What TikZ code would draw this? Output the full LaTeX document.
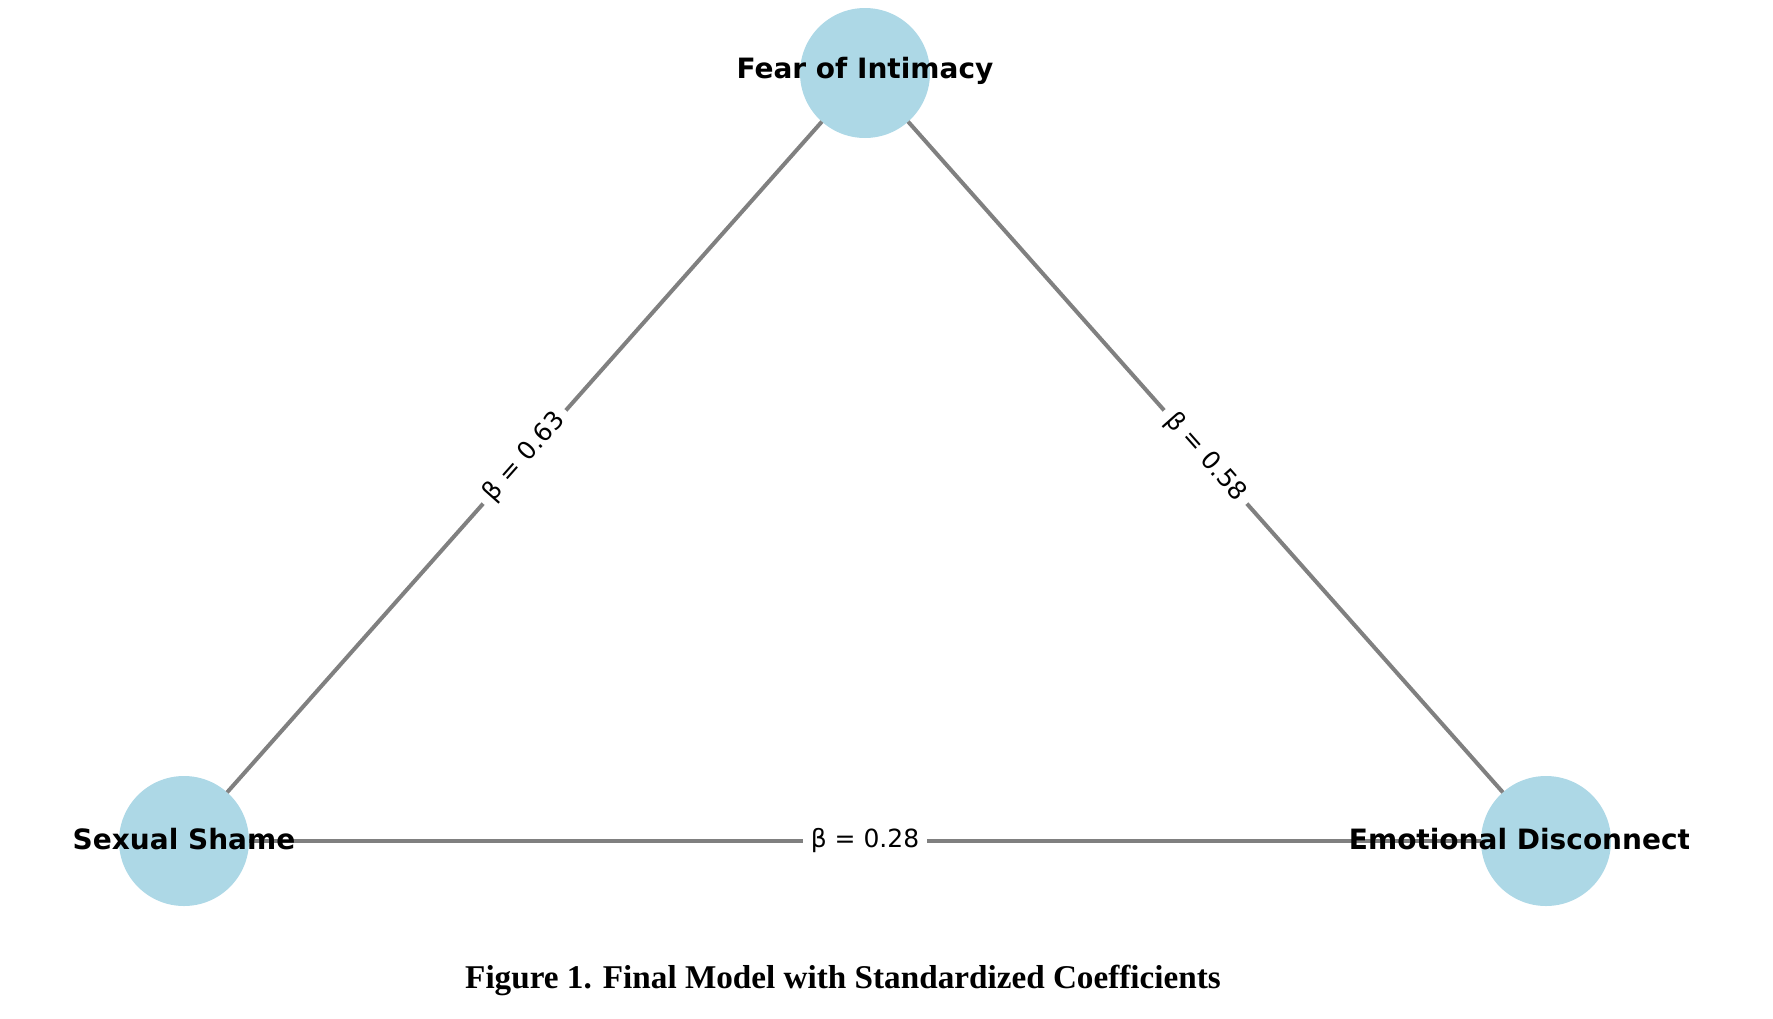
\documentclass[tikz,border=0pt]{standalone}
\usepackage{fontspec}
\setmainfont{Liberation Serif}
\newfontfamily\dejavu{DejaVu Sans}
\definecolor{nodeblue}{RGB}{173,216,230}
\tikzset{
  var/.style = {circle, fill=nodeblue, minimum size=#1,
                inner sep=0pt, outer sep=0pt},
  var/.default = 65pt,
  varname/.style = {font=\dejavu\bfseries\fontsize{14}{16}\selectfont, inner sep=0pt},
  coef/.style = {font=\dejavu\fontsize{12.5}{14}\selectfont, fill=white,
                 inner xsep=4pt, inner ysep=2pt},
  link/.style = {draw=black!50!white, line width=2pt}
}

\begin{document}
\begin{tikzpicture}[x=0.5pt, y=-0.5pt]
	\useasboundingbox (0,0) rectangle (1773,1018);

	% Variables
	\node[var] (fear)  at (865,73)   {};
	\node[var] (shame) at (184,841)  {};
	\node[var] (emo)   at (1546,841) {};

	% Paths
	\draw[link] (shame) -- node[coef, sloped] (b1) {β = 0.63} (fear);
	\draw[link] (fear)  -- node[coef, sloped] (b2) {β = 0.58} (emo);
	\draw[link] (shame) -- node[coef] (b3) {β = 0.28} (emo);

	% Names
	\begin{scope}
	\clip (0,0) rectangle (1688,1018);
	\node[varname] (fearname)  at ([yshift=1pt]fear)  {Fear of Intimacy};
	\node[varname] (shamename) at ([yshift=1pt]shame) {Sexual Shame};
	\node[varname] (emoname)   at ([xshift=-13pt, yshift=1pt]emo) {Emotional Disconnect};
	\end{scope}

	% Caption
	\node[font=\bfseries\fontsize{16.6}{18}\selectfont, anchor=base, inner sep=0pt] (caption)
		at (843,988) {Figure 1. Final Model with Standardized Coefficients};
\end{tikzpicture}
\end{document}
